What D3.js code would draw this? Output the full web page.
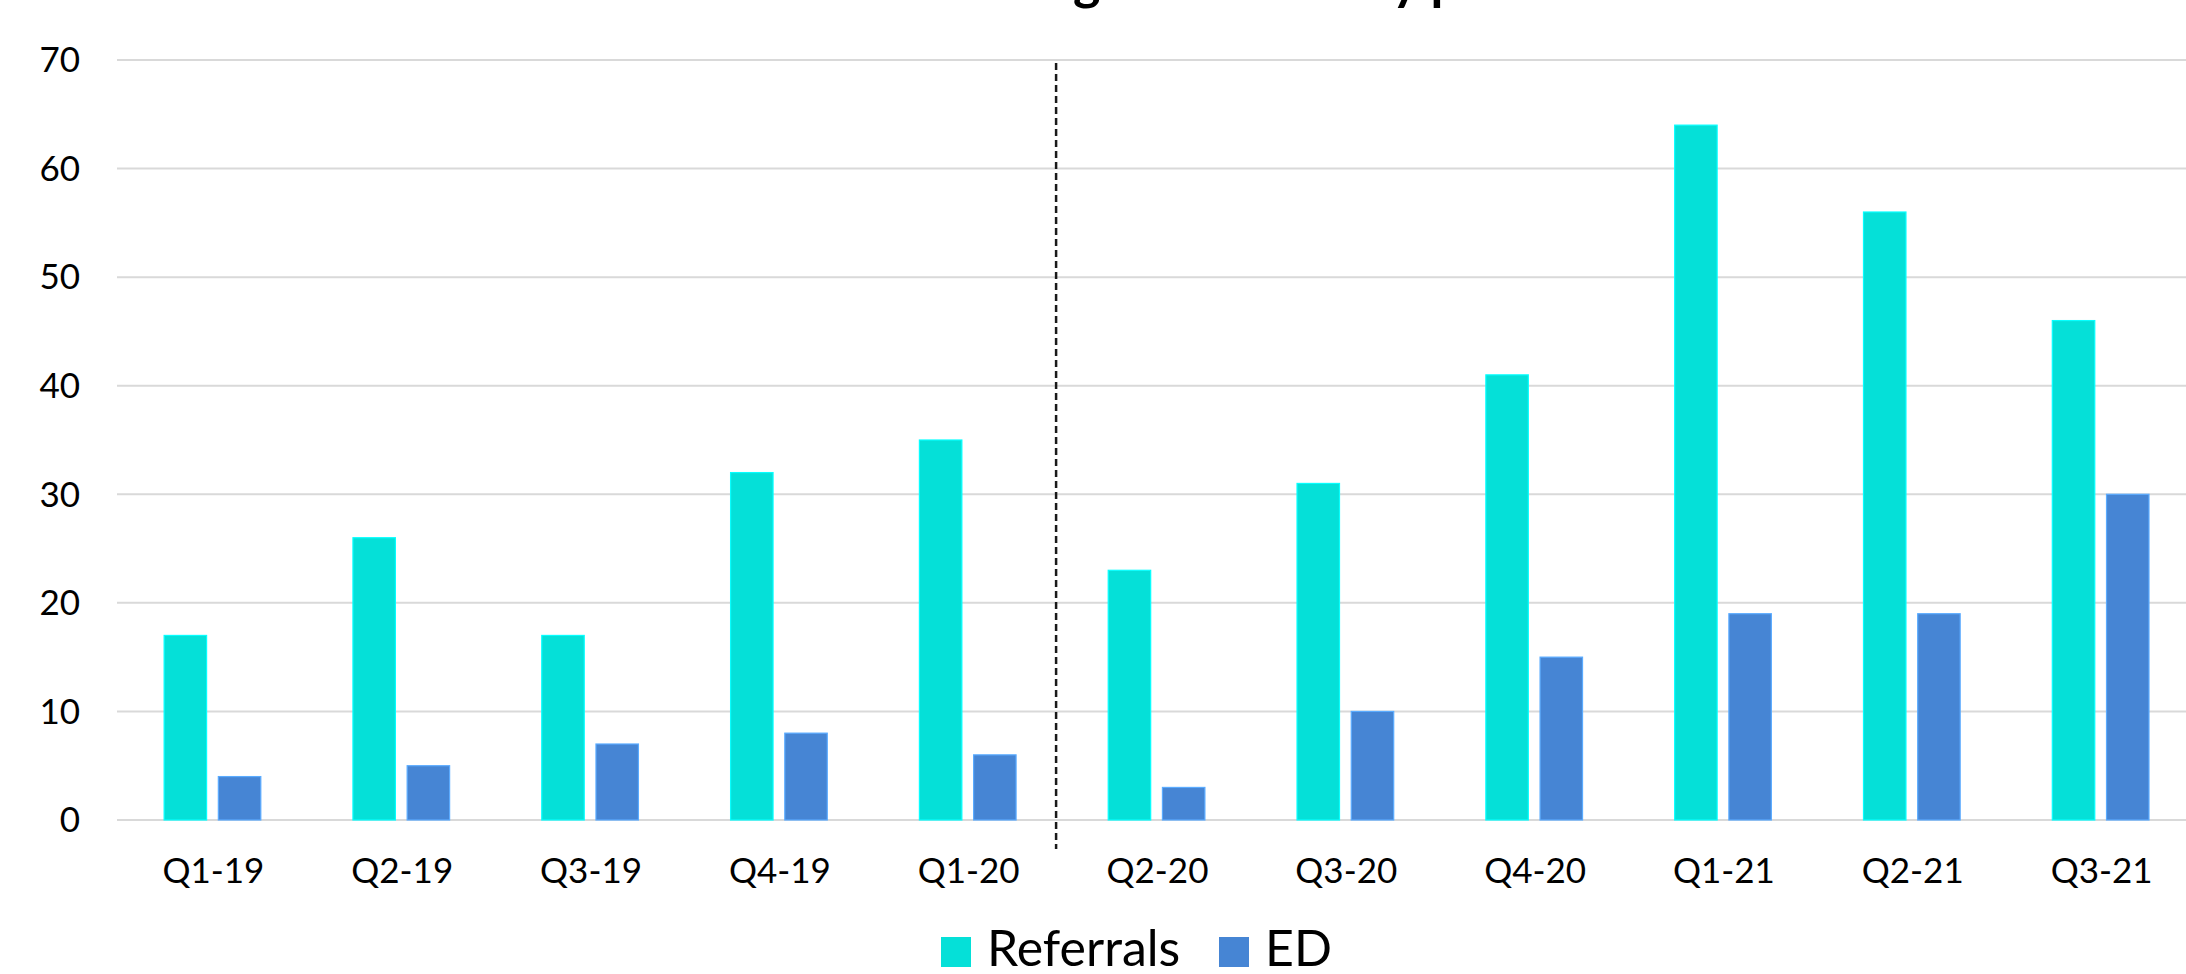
<!DOCTYPE html>
<html>
<head>
<meta charset="utf-8">
<script src="https://cdn.jsdelivr.net/npm/d3@7"></script>
<style>
  html, body { margin: 0; padding: 0; background: #fff; }
  svg { display: block; }
  text { font-family: Lato, "Open Sans", sans-serif; fill: #000; }
</style>
</head>
<body>
<svg id="chart" width="2186" height="974"></svg>
<script>
const categories = ["Q1-19","Q2-19","Q3-19","Q4-19","Q1-20","Q2-20","Q3-20","Q4-20","Q1-21","Q2-21","Q3-21"];
const referrals = [17, 26, 17, 32, 35, 23, 31, 41, 64, 56, 46];
const ed = [4, 5, 7, 8, 6, 3, 10, 15, 19, 19, 30];
const seriesNames = ["Referrals", "ED"];
const seriesColors = ["#05E0D8", "#4685D4"];
const yTicks = [0, 10, 20, 30, 40, 50, 60, 70];
const titleText = "Referrals and ED Attendances during Lockdown by period";
const dividerAfter = "Q1-20";

const svg = d3.select("#chart");
const W = 2186;

const x = d3.scaleBand().domain(categories).range([119, 2196]).paddingInner(0).paddingOuter(0);
const bw = x.bandwidth();
const xs = d3.scaleBand().domain(seriesNames)
  .range([bw * 0.239, bw * 0.751]).paddingInner(0.2167).paddingOuter(0);
const y = d3.scaleLinear().domain([0, 70]).range([820, 60]);

// gridlines
svg.append("g").selectAll("line").data(yTicks).join("line")
  .attr("x1", 117).attr("x2", W)
  .attr("y1", d => y(d)).attr("y2", d => y(d))
  .attr("stroke", "#D9D9D9").attr("stroke-width", 2);

// y labels
svg.append("g").selectAll("text").data(yTicks).join("text")
  .attr("x", 80).attr("y", d => y(d)).attr("dy", "0.35em")
  .attr("text-anchor", "end").attr("font-size", 35)
  .text(d => d);

// bars
const data = categories.map((c, i) => ({ c, vals: [referrals[i], ed[i]] }));
const groups = svg.append("g").selectAll("g").data(data).join("g")
  .attr("transform", d => `translate(${x(d.c)},0)`);
groups.selectAll("rect").data(d => d.vals.map((v, j) => ({ v, s: seriesNames[j], col: seriesColors[j] })))
  .join("rect")
  .attr("x", d => xs(d.s))
  .attr("width", xs.bandwidth())
  .attr("y", d => y(d.v))
  .attr("height", d => y(0) - y(d.v))
  .attr("fill", d => d.col)
  .attr("stroke", d => d3.color(d.col).brighter(0.7))
  .attr("stroke-width", 1.2);

// x labels
svg.append("g").selectAll("text").data(categories).join("text")
  .attr("x", d => x(d) + bw / 2).attr("y", 883)
  .attr("text-anchor", "middle").attr("font-size", 35)
  .text(d => d);

// dashed divider
const xd = x(dividerAfter) + bw - 7;
svg.append("line")
  .attr("x1", xd).attr("x2", xd).attr("y1", 63).attr("y2", 849)
  .attr("stroke", "#1a1a1a").attr("stroke-width", 2.5)
  .attr("stroke-dasharray", "7,4");

// title (mostly clipped above the page)
const title = svg.append("text")
  .attr("y", -1).attr("font-size", 52).attr("font-weight", "bold")
  .text(titleText);
const gi = titleText.indexOf("during") + 5;
const off = title.node().getSubStringLength(0, gi);
title.attr("x", 1073 - off);

// legend
const legend = svg.append("g");
const legendItems = [
  { name: "Referrals", col: seriesColors[0], sx: 941 },
  { name: "ED", col: seriesColors[1], sx: 1219 }
];
legendItems.forEach(it => {
  legend.append("rect").attr("x", it.sx).attr("y", 937).attr("width", 30).attr("height", 30)
    .attr("fill", it.col);
  legend.append("text").attr("x", it.sx + 46).attr("y", 966)
    .attr("font-size", 50).text(it.name);
});
</script>
</body>
</html>
